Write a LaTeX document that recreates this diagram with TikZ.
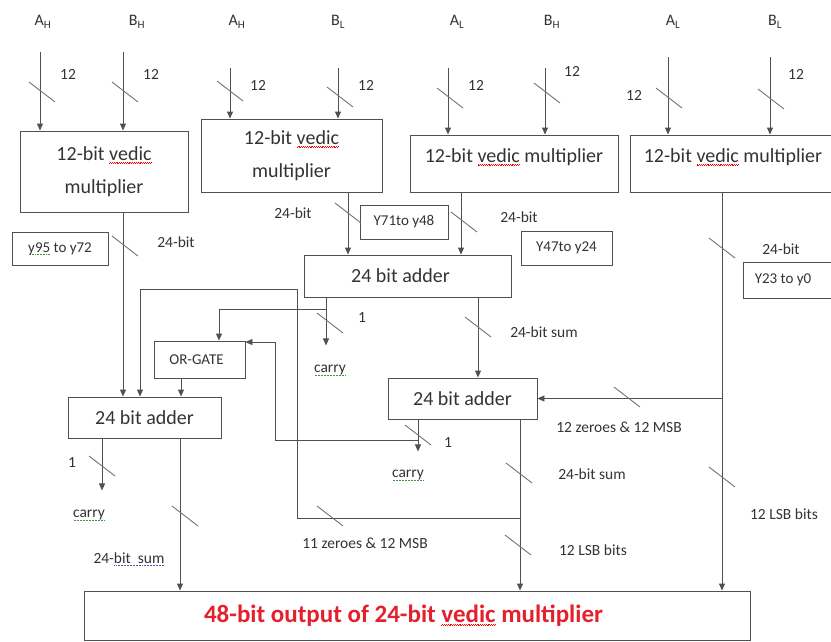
\documentclass[tikz,border=0pt]{standalone}
\usepackage{fontspec}
\setmainfont{Carlito}
\usetikzlibrary{arrows.meta}
\definecolor{ln}{HTML}{505050}
\definecolor{tx}{HTML}{333333}
\definecolor{outred}{HTML}{E3202C}
\definecolor{spgreen}{HTML}{3A9A3A}
\definecolor{spblue}{HTML}{4A5AA8}
\newcommand\redwave[1]{\setbox0\hbox{#1}\leavevmode\rlap{\smash{\lower2.8pt\hbox to\wd0{\color{red}\xleaders\hbox{\rule{0.9pt}{0.45pt}\raise0.7pt\hbox{\rule{0.9pt}{0.45pt}}}\hfil}}}\box0\relax}
\newcommand\dotund[2]{\setbox0\hbox{#2}\leavevmode\rlap{\smash{\lower2.6pt\hbox to\wd0{\color{#1}\xleaders\hbox{\kern0.45pt\rule{0.6pt}{0.6pt}\kern0.45pt}\hfil}}}\box0\relax}
\newcommand\busmark[1]{\draw[bus] (#1) ++(-13,-10) -- ++(26,20);}
\begin{document}
\begin{tikzpicture}[x=1pt,y=-1pt,
  box/.style={draw=ln, line width=0.9pt, inner sep=0pt, text=tx, font=\fontsize{20}{33}\selectfont, align=center},
  lbox/.style={draw=ln, line width=0.9pt, inner sep=0pt, text=tx, font=\fontsize{15}{17}\selectfont},
  lbl/.style={text=tx, font=\fontsize{15.5}{17}\selectfont, inner sep=1pt},
  tlbl/.style={text=tx, font=\fontsize{16}{18}\selectfont, inner sep=1pt},
  conn/.style={draw=ln, line width=0.9pt},
  arr/.style={conn, -{Triangle[length=7pt,width=6pt]}},
  bus/.style={draw=ln!80, line width=0.9pt}]
\useasboundingbox (0,0) rectangle (831,641);
% top input labels
\node[tlbl] (la1) at (43,22) {A\textsubscript{H}};
\node[tlbl] (lb1) at (137,22) {B\textsubscript{H}};
\node[tlbl] (la2) at (237,22) {A\textsubscript{H}};
\node[tlbl] (lb2) at (338,22) {B\textsubscript{L}};
\node[tlbl] (la3) at (457,22) {A\textsubscript{L}};
\node[tlbl] (lb3) at (552,22) {B\textsubscript{H}};
\node[tlbl] (la4) at (673,22) {A\textsubscript{L}};
\node[tlbl] (lb4) at (775,22) {B\textsubscript{L}};
% multipliers
\node[box, minimum width=168, minimum height=81] (m1) at (104,171.5) {12-bit \redwave{vedic}\\multiplier};
\node[box, minimum width=181, minimum height=73] (m2) at (291.5,155.5) {12-bit \redwave{vedic}\\multiplier};
\node[box, minimum width=208, minimum height=57, text depth=16pt] (m3) at (514,163.5) {12-bit \redwave{vedic} multiplier};
\node[box, minimum width=206, minimum height=57, text depth=16pt] (m4) at (733,163.5) {12-bit \redwave{vedic} multiplier};
% label boxes
\node[lbox, minimum width=96, minimum height=33] (ly1) at (60,248.5) {\dotund{spgreen}{y95} to y72};
\node[lbox, minimum width=88, minimum height=34] (ly2) at (404,222) {Y71to y48};
\node[lbox, minimum width=91, minimum height=34] (ly3) at (566.5,248) {Y47to y24};
\node[lbox, minimum width=92, minimum height=36] (ly4) at (789,280) {Y23 to y0\hspace*{12pt}};
% adders and or gate
\node[box, minimum width=207, minimum height=42] (a1) at (407.5,276) {24 bit adder\hspace*{14pt}};
\node[box, minimum width=149, minimum height=41] (a2) at (462.5,398.5) {24 bit adder};
\node[box, minimum width=153, minimum height=41] (a3) at (144.5,417.5) {24 bit adder};
\node[lbox, minimum width=91, minimum height=37] (or) at (199.5,359.5) {OR-GATE\hspace*{6pt}};
% output
\node[draw=ln, line width=0.9pt, inner sep=0pt, minimum width=666, minimum height=49, text=outred, font=\fontsize{25}{29}\selectfont\bfseries] (out) at (417,615.5) {48-bit output of 24-bit \redwave{vedic} multiplier\hspace*{27pt}};
% input arrows
\coordinate (i1) at (40,52);  \coordinate (i2) at (123,52);
\coordinate (i3) at (230,68); \coordinate (i4) at (338,68);
\coordinate (i5) at (448,68); \coordinate (i6) at (545,68);
\coordinate (i7) at (668,57); \coordinate (i8) at (770,57);
\draw[arr] (i1) -- (i1 |- m1.north);
\draw[arr] (i2) -- (i2 |- m1.north);
\draw[arr] (i3) -- (i3 |- m2.north);
\draw[arr] (i4) -- (i4 |- m2.north);
\draw[arr] (i5) -- (i5 |- m3.north);
\draw[arr] (i6) -- (i6 |- m3.north);
\draw[arr] (i7) -- (i7 |- m4.north);
\draw[arr] (i8) -- (i8 |- m4.north);
\busmark{42,92} \busmark{125,92}
\busmark{230,91} \busmark{340,97}
\busmark{450,98} \busmark{547,93}
\busmark{669,98} \busmark{771,99}
\node[lbl] (n1) at (68,74) {12};
\node[lbl] (n2) at (151,74) {12};
\node[lbl] (n3) at (258,85) {12};
\node[lbl] (n4) at (366,85) {12};
\node[lbl] (n5) at (476,85) {12};
\node[lbl] (n6) at (572,71) {12};
\node[lbl] (n7) at (634,95) {12};
\node[lbl] (n8) at (796,74) {12};
% multiplier outputs
\draw[arr] (m1.south -| i2) -- (i2 |- a3.north);
\path (m2.south) ++(56.5,0) coordinate (o2);
\draw[arr] (o2) -- (o2 |- a1.north);
\path (m3.south) ++(-53,0) coordinate (o3);
\draw[arr] (o3) -- (o3 |- a1.north);
\path (m4.south) ++(-11,0) coordinate (o4);
\draw[arr] (o4) -- (o4 |- out.north);
\draw[arr] (o4 |- a2.east) -- (a2.east);
\busmark{125,246} \node[lbl] (t1) at (176,242) {24-bit};
\busmark{348,213} \node[lbl] (t2) at (293,213) {24-bit};
\busmark{464,222} \node[lbl] (t3) at (519,217) {24-bit};
\busmark{722,248} \node[lbl] (t4) at (781,249) {24-bit};
\busmark{722,477} \node[lbl] (t5) at (784,514) {12 LSB bits};
\busmark{627,397} \node[lbl] (t6) at (619,427) {12 zeroes \& 12 MSB};
% adder 1 outputs
\path (a1.south) ++(-81.5,0) coordinate (c1);
\draw[arr] (c1) -- ++(0,48) coordinate (c1e);
\node[lbl] (k1) at (330,370) {\dotund{spgreen}{carry}};
\path (c1) ++(0,12) coordinate (c1b);
\draw[arr] (c1b) -| ([xshift=19.5pt]or.north);
\busmark{330,323} \node[lbl] (t7) at (362,318) {1};
\path (a1.south) ++(70.5,0) coordinate (s1);
\draw[arr] (s1) -- (s1 |- a2.north);
\busmark{478,327} \node[lbl] (t8) at (544,332) {24-bit sum};
% adder 2 outputs
\path (a2.south) ++(-44.5,0) coordinate (c2);
\draw[arr] (c2) -- ++(0,32) coordinate (c2e);
\node[lbl] (k2) at (408,475) {\dotund{spgreen}{carry}};
\path (c2) ++(0,21) coordinate (c2b);
\draw[arr] (c2b) -- ++(-143,0) |- ([yshift=-1.5pt]or.north east);
\busmark{418,435} \node[lbl] (t9) at (448,443) {1};
\path (a2.south) ++(57.5,0) coordinate (s2);
\draw[arr] (s2) -- (s2 |- out.north);
\path (s2) ++(0,99) coordinate (s2b);
\draw[arr] (s2b) -- ++(-223,0) -- ++(0,-229) -| ([xshift=-4.5pt]a3.north);
\busmark{519,473} \node[lbl] (t10) at (592,474) {24-bit sum};
\busmark{518,545} \node[lbl] (t11) at (593,550) {12 LSB bits};
\busmark{330,516} \node[lbl] (t12) at (365,543) {11 zeroes \& 12 MSB};
% or gate output
\draw[arr] ([xshift=-18.5pt]or.south) -- ([xshift=-18.5pt]or.south |- a3.north);
% adder 3 outputs
\path (a3.south) ++(-42.5,0) coordinate (c3);
\draw[arr] (c3) -- ++(0,52) coordinate (c3e);
\node[lbl] (k3) at (89,515) {\dotund{spgreen}{carry}};
\busmark{102,466} \node[lbl] (t13) at (72,463) {1};
\path (a3.south) ++(35.5,0) coordinate (s3);
\draw[arr] (s3) -- (s3 |- out.north);
\busmark{185,516} \node[lbl] (t14) at (129,558) {24-\dotund{spblue}{bit\ \ sum}};
\end{tikzpicture}
\end{document}
